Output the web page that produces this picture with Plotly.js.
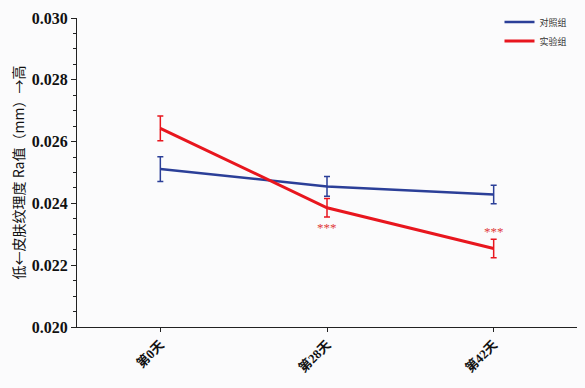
<!DOCTYPE html>
<html><head><meta charset="utf-8">
<script src="https://cdn.plot.ly/plotly-3.0.1.min.js"></script>
<style>html,body{margin:0;padding:0;background:#fbfbfc;}#chart{width:585px;height:388px;}</style>
</head><body><div id="chart"></div>
<script>
var categories = ["第0天", "第28天", "第42天"];
var controlValues = [0.02511, 0.02455, 0.02429];
var controlErrors = [0.0004, 0.00032, 0.0003];
var treatValues = [0.02643, 0.02386, 0.02254];
var treatErrors = [0.0004, 0.0003, 0.0003];
var sigLabels = ["", "***", "***"];
var yTicks = [0.020, 0.022, 0.024, 0.026, 0.028, 0.030];

var blue = "#2b3f98", red = "#e8161e";
var traces = [
  {x: categories, y: controlValues, name: "对照组", type: "scatter", mode: "lines",
   line: {color: blue, width: 2.5},
   error_y: {type: "data", array: controlErrors, visible: true, color: blue, thickness: 1.5, width: 3}},
  {x: categories, y: treatValues, name: "实验组", type: "scatter", mode: "lines",
   line: {color: red, width: 3},
   error_y: {type: "data", array: treatErrors, visible: true, color: red, thickness: 1.5, width: 3}}
];
var annotations = [];
for (var i = 0; i < categories.length; i++) {
  if (!sigLabels[i]) continue;
  annotations.push({x: categories[i], y: treatValues[i] - treatErrors[i], xref: "x", yref: "y",
    text: sigLabels[i], showarrow: false, yanchor: i === 1 ? "top" : "bottom",
    yshift: i === 1 ? -1 : 17, font: {family: "Liberation Serif", size: 13, color: "#e03a3a"}});
}
var layout = {
  width: 585, height: 388,
  paper_bgcolor: "#fbfbfc", plot_bgcolor: "#fbfbfc",
  margin: {l: 77, r: 8, t: 16, b: 61},
  showlegend: true,
  legend: {x: 0.845, y: 1.034, xanchor: "left", yanchor: "top", bgcolor: "rgba(0,0,0,0)",
    font: {family: "Noto Sans CJK SC", size: 9, color: "#333"}, tracegroupgap: 0, itemwidth: 30},
  xaxis: {type: "category", range: [-0.5, 2.5], showline: true, linecolor: "#222", linewidth: 1,
    ticks: "outside", ticklen: 4, tickcolor: "#222", showgrid: false, zeroline: false,
    tickangle: -45, tickfont: {family: "Liberation Serif, Noto Sans CJK SC", size: 13, color: "#111", weight: "bold"}},
  yaxis: {range: [0.020, 0.030], tickvals: yTicks, tickformat: ".3f", showline: true, linecolor: "#222", linewidth: 1,
    ticks: "outside", ticklen: 5, tickcolor: "#222", showgrid: false, zeroline: false,
    minor: {dtick: 0.0005, ticks: "outside", ticklen: 3, tickcolor: "#222", showgrid: false},
    tickfont: {family: "Liberation Serif", size: 16, color: "#111", weight: "bold"},
    title: {text: "低←皮肤纹理度 Ra值（mm）→高", standoff: 3,
      font: {family: "Noto Sans CJK SC", size: 14, color: "#111"}}},
  annotations: annotations
};
Plotly.newPlot("chart", traces, layout, {displayModeBar: false, staticPlot: true});
</script></body></html>
